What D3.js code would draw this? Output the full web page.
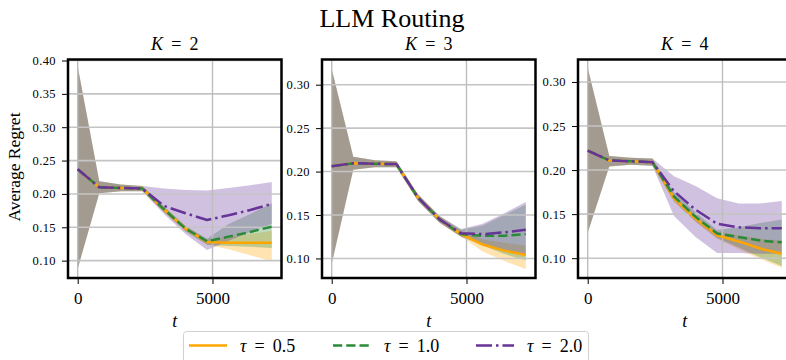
<!DOCTYPE html>
<html><head><meta charset="utf-8">
<script src="https://cdn.jsdelivr.net/npm/d3@7"></script>
<style>
body{margin:0;background:#fff}
svg{display:block}
text{font-family:"Liberation Serif","DejaVu Serif",serif;fill:#000}
</style>
</head><body>
<svg id="chart" width="786" height="360"></svg>
<script>
// ---------- data ----------
const tValues = [0, 800, 1600, 2400, 3200, 4000, 4800, 5600, 6400, 7200];
const kValues = ["2", "3", "4"];
const tauLabels = ["0.5", "1.0", "2.0"];
const xTickValues = [0, 5000];
const yTicksK2 = [0.10, 0.15, 0.20, 0.25, 0.30, 0.35, 0.40];
const yTicksK3 = [0.10, 0.15, 0.20, 0.25, 0.30];
const yTicksK4 = [0.10, 0.15, 0.20, 0.25, 0.30];

// K = 2
const k2MeanTau05 = [0.237, 0.210, 0.209, 0.208, 0.177, 0.148, 0.128, 0.127, 0.127, 0.127];
const k2LowTau05  = [0.088, 0.201, 0.204, 0.204, 0.173, 0.144, 0.124, 0.117, 0.108, 0.099];
const k2HighTau05 = [0.391, 0.219, 0.214, 0.212, 0.181, 0.152, 0.132, 0.136, 0.140, 0.145];
const k2MeanTau10 = [0.237, 0.210, 0.209, 0.208, 0.177, 0.148, 0.129, 0.136, 0.143, 0.151];
const k2LowTau10  = [0.088, 0.201, 0.204, 0.204, 0.173, 0.144, 0.124, 0.122, 0.121, 0.119];
const k2HighTau10 = [0.391, 0.219, 0.214, 0.212, 0.181, 0.152, 0.133, 0.155, 0.170, 0.186];
const k2MeanTau20 = [0.237, 0.210, 0.209, 0.208, 0.182, 0.171, 0.161, 0.168, 0.176, 0.185];
const k2LowTau20  = [0.088, 0.201, 0.204, 0.204, 0.170, 0.140, 0.116, 0.130, 0.143, 0.155];
const k2HighTau20 = [0.391, 0.219, 0.214, 0.212, 0.208, 0.206, 0.205, 0.209, 0.213, 0.218];

// K = 3
const k3MeanTau05 = [0.206, 0.2097, 0.209, 0.2086, 0.170, 0.145, 0.128, 0.116, 0.109, 0.104];
const k3LowTau05  = [0.094, 0.202, 0.205, 0.205, 0.166, 0.141, 0.125, 0.108, 0.097, 0.088];
const k3HighTau05 = [0.318, 0.217, 0.213, 0.212, 0.174, 0.149, 0.132, 0.122, 0.118, 0.115];
const k3MeanTau10 = [0.206, 0.2097, 0.209, 0.2086, 0.170, 0.145, 0.128, 0.126, 0.126, 0.128];
const k3LowTau10  = [0.094, 0.202, 0.205, 0.205, 0.166, 0.141, 0.125, 0.115, 0.105, 0.098];
const k3HighTau10 = [0.318, 0.217, 0.213, 0.212, 0.174, 0.149, 0.133, 0.138, 0.150, 0.162];
const k3MeanTau20 = [0.206, 0.2097, 0.209, 0.2086, 0.170, 0.145, 0.129, 0.128, 0.130, 0.133];
const k3LowTau20  = [0.094, 0.202, 0.205, 0.205, 0.166, 0.141, 0.125, 0.117, 0.110, 0.104];
const k3HighTau20 = [0.318, 0.217, 0.213, 0.212, 0.174, 0.149, 0.134, 0.140, 0.152, 0.165];

// K = 4
const k4MeanTau05 = [0.222, 0.211, 0.210, 0.209, 0.168, 0.145, 0.126, 0.119, 0.111, 0.105];
const k4LowTau05  = [0.129, 0.204, 0.206, 0.205, 0.164, 0.141, 0.122, 0.110, 0.099, 0.089];
const k4HighTau05 = [0.316, 0.216, 0.214, 0.213, 0.172, 0.149, 0.130, 0.126, 0.122, 0.120];
const k4MeanTau10 = [0.222, 0.211, 0.210, 0.209, 0.170, 0.147, 0.128, 0.124, 0.120, 0.118];
const k4LowTau10  = [0.129, 0.204, 0.206, 0.205, 0.165, 0.142, 0.123, 0.112, 0.101, 0.091];
const k4HighTau10 = [0.316, 0.216, 0.214, 0.213, 0.175, 0.152, 0.132, 0.135, 0.140, 0.144];
const k4MeanTau20 = [0.222, 0.211, 0.210, 0.209, 0.176, 0.155, 0.139, 0.135, 0.134, 0.134];
const k4LowTau20  = [0.129, 0.204, 0.206, 0.205, 0.148, 0.124, 0.106, 0.106, 0.105, 0.105];
const k4HighTau20 = [0.316, 0.216, 0.214, 0.213, 0.193, 0.182, 0.168, 0.162, 0.162, 0.165];

// ---------- assemble ----------
const panels = [
  { k: kValues[0], yTicks: yTicksK2, yDomain: [0.074, 0.4015],
    series: [[k2MeanTau05, k2LowTau05, k2HighTau05], [k2MeanTau10, k2LowTau10, k2HighTau10], [k2MeanTau20, k2LowTau20, k2HighTau20]] },
  { k: kValues[1], yTicks: yTicksK3, yDomain: [0.0775, 0.329],
    series: [[k3MeanTau05, k3LowTau05, k3HighTau05], [k3MeanTau10, k3LowTau10, k3HighTau10], [k3MeanTau20, k3LowTau20, k3HighTau20]] },
  { k: kValues[2], yTicks: yTicksK4, yDomain: [0.0775, 0.3255],
    series: [[k4MeanTau05, k4LowTau05, k4HighTau05], [k4MeanTau10, k4LowTau10, k4HighTau10], [k4MeanTau20, k4LowTau20, k4HighTau20]] }
];

const colors = ["#ffa500", "#2a8a38", "#663399"];
const dashes = [null, "9.25,4", "16,4,2.5,4"];
const lineWidth = 2.5;

const svg = d3.select("#chart");
svg.append("rect").attr("width", 786).attr("height", 360).attr("fill", "#fff");

const panelLefts = [68, 322, 578];
const panelWidth = 213.5;
const plotTop = 59.5, plotBottom = 278;

// math-like text: italic symbol, spaced "=", upright value
function mathEq(g, sym, val, size) {
  const gap = size * 0.45;
  g.attr("font-size", size);
  g.append("tspan").attr("font-style", "italic").text(sym);
  g.append("tspan").attr("dx", gap).text("=");
  g.append("tspan").attr("dx", gap).text(val);
  return g;
}

// main title
svg.append("text").attr("x", 392).attr("y", 27).attr("text-anchor", "middle")
  .attr("font-size", 26).text("LLM Routing");

// y label
svg.append("text").attr("transform", "translate(20,167) rotate(-90)")
  .attr("text-anchor", "middle").attr("font-size", 17.5).text("Average Regret");

panels.forEach((p, pi) => {
  const left = panelLefts[pi], right = left + panelWidth;
  const x = d3.scaleLinear().domain([-360, 7560]).range([left, right]);
  const y = d3.scaleLinear().domain(p.yDomain).range([plotBottom, plotTop]);
  const g = svg.append("g");

  // bands (lowest layer)
  p.series.forEach((s, si) => {
    const area = d3.area().x((d, i) => x(tValues[i])).y0((d, i) => y(s[1][i])).y1((d, i) => y(s[2][i]));
    g.append("path").datum(s[0]).attr("d", area).attr("fill", colors[si]).attr("fill-opacity", 0.3).attr("stroke", "none");
  });

  // grid
  g.selectAll(".hg").data(p.yTicks).join("line")
    .attr("x1", left).attr("x2", right).attr("y1", d => y(d)).attr("y2", d => y(d))
    .attr("stroke", "#c4c4c4").attr("stroke-width", 1.6);
  g.selectAll(".vg").data(xTickValues).join("line")
    .attr("y1", plotTop).attr("y2", plotBottom).attr("x1", d => x(d)).attr("x2", d => x(d))
    .attr("stroke", "#bdbdbd").attr("stroke-width", 1.4);

  // lines
  p.series.forEach((s, si) => {
    const line = d3.line().x((d, i) => x(tValues[i])).y(d => y(d));
    const path = g.append("path").datum(s[0]).attr("d", line).attr("fill", "none")
      .attr("stroke", colors[si]).attr("stroke-width", lineWidth).attr("stroke-linejoin", "round");
    if (dashes[si]) path.attr("stroke-dasharray", dashes[si]);
  });

  // axes
  const yAxis = d3.axisLeft(y).tickValues(p.yTicks).tickFormat(d3.format(".2f")).tickSize(5).tickPadding(6);
  const ya = svg.append("g").attr("transform", `translate(${left - 1},0)`).call(yAxis);
  ya.attr("font-family", null);
  ya.select(".domain").remove();
  ya.selectAll("line").attr("stroke", "#000").attr("stroke-width", 1);
  ya.selectAll("text").attr("font-size", 12.5).attr("font-family", "Liberation Serif, serif").attr("letter-spacing", 0.4);

  const xAxis = d3.axisBottom(x).tickValues(xTickValues).tickFormat(d3.format("d")).tickSize(5).tickPadding(8);
  const xa = svg.append("g").attr("transform", `translate(0,${plotBottom + 1})`).call(xAxis);
  xa.attr("font-family", null);
  xa.select(".domain").remove();
  xa.selectAll("line").attr("stroke", "#000").attr("stroke-width", 1);
  xa.selectAll("text").attr("font-size", 17).attr("font-family", "Liberation Serif, serif");

  // spines
  svg.append("rect").attr("x", left).attr("y", plotTop).attr("width", panelWidth).attr("height", plotBottom - plotTop)
    .attr("fill", "none").attr("stroke", "#000").attr("stroke-width", 2.5);

  // panel title
  mathEq(svg.append("text").attr("x", (left + right) / 2).attr("y", 50).attr("text-anchor", "middle"),
    "K", p.k, 18);

  // x label
  svg.append("text").attr("x", (left + right) / 2).attr("y", 327).attr("text-anchor", "middle")
    .attr("font-size", 18).attr("font-style", "italic").text("t");
});

// legend
const lg = svg.append("g");
lg.append("rect").attr("x", 183.5).attr("y", 331.5).attr("width", 405).attr("height", 36).attr("rx", 3)
  .attr("fill", "#fff").attr("fill-opacity", 0.8).attr("stroke", "#d0d0d0").attr("stroke-width", 1);
const legendX = [189, 333, 476];
tauLabels.forEach((lab, i) => {
  const l = lg.append("line").attr("x1", legendX[i]).attr("x2", legendX[i] + 38)
    .attr("y1", 345.5).attr("y2", 345.5).attr("stroke", colors[i]).attr("stroke-width", lineWidth);
  if (dashes[i]) l.attr("stroke-dasharray", dashes[i]);
  mathEq(lg.append("text").attr("x", legendX[i] + 51).attr("y", 352), "τ", lab, 18);
});
</script>
</body></html>
